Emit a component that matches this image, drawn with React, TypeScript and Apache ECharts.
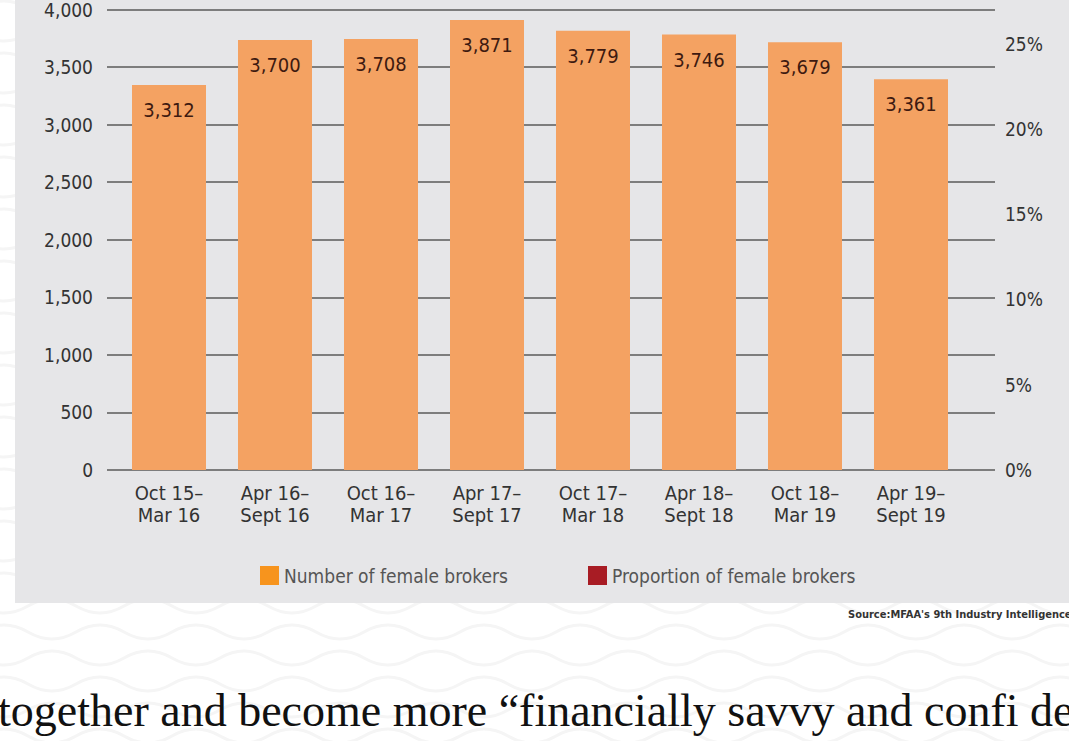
import React, { useEffect, useRef } from "react";
import * as echarts from "echarts";

const categories = [
  "Oct 15–\nMar 16",
  "Apr 16–\nSept 16",
  "Oct 16–\nMar 17",
  "Apr 17–\nSept 17",
  "Oct 17–\nMar 18",
  "Apr 18–\nSept 18",
  "Oct 18–\nMar 19",
  "Apr 19–\nSept 19",
];
const femaleBrokers = [3312, 3700, 3708, 3871, 3779, 3746, 3679, 3361];
const proportionFemale: number[] = [];
const leftTicks = [0, 500, 1000, 1500, 2000, 2500, 3000, 3500, 4000];
const rightTicks = [0, 5, 10, 15, 20, 25];

const FONT = "'Liberation Sans Narrow', 'DejaVu Sans Condensed', 'Roboto', sans-serif";

function wavePath(width: number, period: number, amp: number): string {
  let d = "M 0 0";
  const half = period / 2;
  for (let x = 0; x < width; x += period) {
    d += ` Q ${x + half / 2} ${-amp} ${x + half} 0 Q ${x + half + half / 2} ${amp} ${x + period} 0`;
  }
  return d;
}

let registered = false;

export default function App() {
  const ref = useRef<HTMLDivElement>(null);
  useEffect(() => {
    if (!ref.current) return;
    if (!registered) {
      echarts.graphic.registerShape(
        "wave",
        echarts.graphic.extendPath(wavePath(1200, 96, 14), {})
      );
      registered = true;
    }
    const chart = echarts.init(ref.current, undefined, { renderer: "svg" });

    const plotTop = 5;
    const plotBottom = 741 - 470;

    const waves: any[] = [];
    for (let i = 0; i < 29; i++) {
      const y = 8 + i * 26;
      waves.push({
        type: "wave",
        x: i % 2 === 0 ? -20 : -68,
        y,
        z: -20,
        silent: true,
        style: { fill: "none", stroke: "#f5f5f5", lineWidth: 3 },
      });
    }

    chart.setOption({
      animation: false,
      backgroundColor: "#ffffff",
      textStyle: { fontFamily: FONT },
      graphic: [
        ...waves,
        {
          type: "rect",
          z: -10,
          silent: true,
          shape: { x: 15, y: 0, width: 1069, height: 603 },
          style: { fill: "#e6e6e8" },
        },
        {
          type: "text",
          x: 848,
          y: 609,
          style: {
            text: "Source:MFAA's 9th Industry Intelligence Service",
            font: "bold 11px " + FONT,
            fill: "#333",
          },
        },
        {
          type: "text",
          x: -2,
          y: 687,
          style: {
            text: "together and become more “financially savvy and confi dent",
            font: "46px 'Liberation Serif', 'DejaVu Serif', serif",
            fill: "#111",
          },
        },
      ],
      legend: [
        {
          left: 255,
          top: 561,
          itemWidth: 19,
          itemHeight: 19,
          icon: "rect",
          textStyle: { fontSize: 19, color: "#555", fontFamily: FONT },
          data: [{ name: "Number of female brokers", itemStyle: { color: "#f7941d" } }],
        },
        {
          left: 583,
          top: 561,
          itemWidth: 19,
          itemHeight: 19,
          icon: "rect",
          textStyle: { fontSize: 19, color: "#555", fontFamily: FONT },
          data: [{ name: "Proportion of female brokers", itemStyle: { color: "#a81c24" } }],
        },
      ],
      grid: [
        { left: 116, width: 848, top: plotTop, bottom: plotBottom },
        { left: 107, width: 888, top: plotTop, bottom: plotBottom },
      ],
      xAxis: [
        {
          type: "category",
          gridIndex: 0,
          data: categories,
          axisLine: { show: false },
          axisTick: { show: false },
          axisLabel: {
            color: "#333",
            fontSize: 20,
            lineHeight: 22,
            margin: 12,
            fontFamily: FONT,
          },
        },
        {
          type: "value",
          gridIndex: 1,
          show: false,
          min: 0,
          max: 1,
        },
      ],
      yAxis: [
        {
          type: "value",
          gridIndex: 0,
          min: 0,
          max: 4000,
          interval: 500,
          show: false,
        },
        {
          type: "value",
          gridIndex: 1,
          min: 0,
          max: 4000,
          interval: 500,
          position: "left",
          axisLine: { show: false },
          axisTick: { show: false },
          axisLabel: {
            color: "#333",
            fontSize: 19,
            margin: 14,
            fontFamily: FONT,
            formatter: (v: number) => (leftTicks.includes(v) ? v.toLocaleString("en-US") : ""),
          },
          splitLine: { show: true, lineStyle: { color: "#5a5a5a", width: 1.6 } },
        },
        {
          type: "value",
          gridIndex: 1,
          min: 0,
          max: 27,
          interval: 5,
          position: "right",
          axisLine: { show: false },
          axisTick: { show: false },
          splitLine: { show: false },
          axisLabel: {
            color: "#333",
            fontSize: 19,
            margin: 10,
            fontFamily: FONT,
            formatter: (v: number) => (rightTicks.includes(v) ? v + "%" : ""),
          },
        },
      ],
      series: [
        {
          name: "Number of female brokers",
          type: "bar",
          xAxisIndex: 0,
          yAxisIndex: 0,
          data: femaleBrokers,
          barWidth: 74,
          z: 5,
          itemStyle: { color: "#f4a262" },
          label: {
            show: true,
            position: "insideTop",
            distance: 15,
            color: "#3e1a10",
            fontSize: 20,
            fontFamily: FONT,
            formatter: (p: any) => Number(p.value).toLocaleString("en-US"),
          },
        },
        {
          name: "Proportion of female brokers",
          type: "line",
          xAxisIndex: 1,
          yAxisIndex: 2,
          data: proportionFemale,
          itemStyle: { color: "#a81c24" },
        },
      ],
    });
    return () => chart.dispose();
  }, []);

  return (
    <div
      ref={ref}
      style={{ position: "absolute", left: 0, top: 0, width: 1069, height: 741 }}
    />
  );
}
